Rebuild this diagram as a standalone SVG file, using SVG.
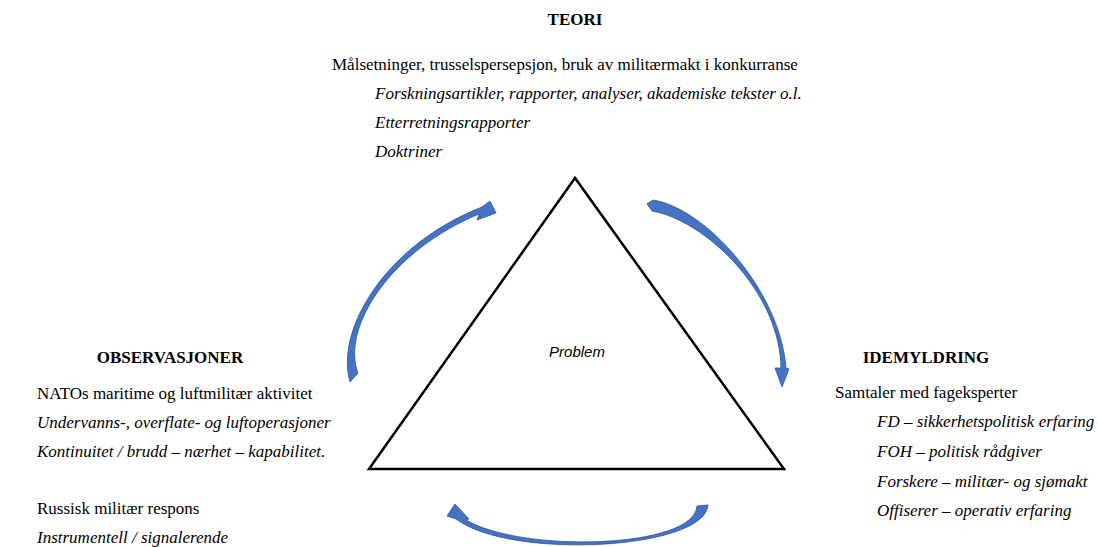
<svg xmlns="http://www.w3.org/2000/svg" width="1098" height="547" viewBox="0 0 1098 547">
  <style>
    text { font-family: "Liberation Serif", "Times New Roman", serif; font-size: 17px; fill: #000; }
    .h { font-weight: bold; text-anchor: middle; }
    .i { font-style: italic; }
    .problem { font-family: "Liberation Sans", Arial, sans-serif; font-style: italic; font-size: 15px; text-anchor: middle; }
    .tri { fill: none; stroke: #000; stroke-width: 2.5; stroke-linejoin: miter; }
    .arrow { fill: #4472C4; stroke: #2F5597; stroke-width: 0.8; stroke-linejoin: round; }
  </style>
  <rect width="1098" height="547" fill="#fff"/>

  <!-- central triangle -->
  <g id="problem">
    <polygon class="tri" points="575,178 369,469 784,469"/>
    <text class="problem" x="577" y="357">Problem</text>
  </g>

  <!-- top block -->
  <g id="teori">
    <text class="h" x="575" y="25">TEORI</text>
    <text x="332" y="70">Målsetninger, trusselspersepsjon, bruk av militærmakt i konkurranse</text>
    <text class="i" x="375" y="99">Forskningsartikler, rapporter, analyser, akademiske tekster o.l.</text>
    <text class="i" x="375" y="128">Etterretningsrapporter</text>
    <text class="i" x="375" y="157">Doktriner</text>
  </g>

  <!-- left block -->
  <g id="observasjoner">
    <text class="h" x="170" y="363">OBSERVASJONER</text>
    <text x="37" y="399">NATOs maritime og luftmilitær aktivitet</text>
    <text class="i" x="37" y="428">Undervanns-, overflate- og luftoperasjoner</text>
    <text class="i" x="37" y="457">Kontinuitet / brudd – nærhet – kapabilitet.</text>
    <text x="37" y="514">Russisk militær respons</text>
    <text class="i" x="37" y="543">Instrumentell / signalerende</text>
  </g>

  <!-- right block -->
  <g id="idemyldring">
    <text class="h" x="926" y="363">IDEMYLDRING</text>
    <text x="835" y="398">Samtaler med fageksperter</text>
    <text class="i" x="877" y="427">FD – sikkerhetspolitisk erfaring</text>
    <text class="i" x="877" y="457">FOH – politisk rådgiver</text>
    <text class="i" x="877" y="487">Forskere – militær- og sjømakt</text>
    <text class="i" x="877" y="516">Offiserer – operativ erfaring</text>
  </g>

  <!-- curved arrows cycling round the triangle -->
  <g id="connectors">
    <path class="arrow" d="M350,382 C335,330 385,245 482,207 L490,201 L496,213 L477,220 L479,214 C390,251 341,328 358,373 Z"/>
    <path class="arrow" d="M647,204 L653,200 C705,208 780,290 786,368 L789,369 L782,387 L775,368 L781,368 C780,293 707,221 652,211 Z"/>
    <path class="arrow" d="M697,506 L708,505 C705,550 510,560 456,519 L447,516 L455,504 L469,519 L466,520 C522,553 694,549 697,506 Z"/>
  </g>
</svg>
